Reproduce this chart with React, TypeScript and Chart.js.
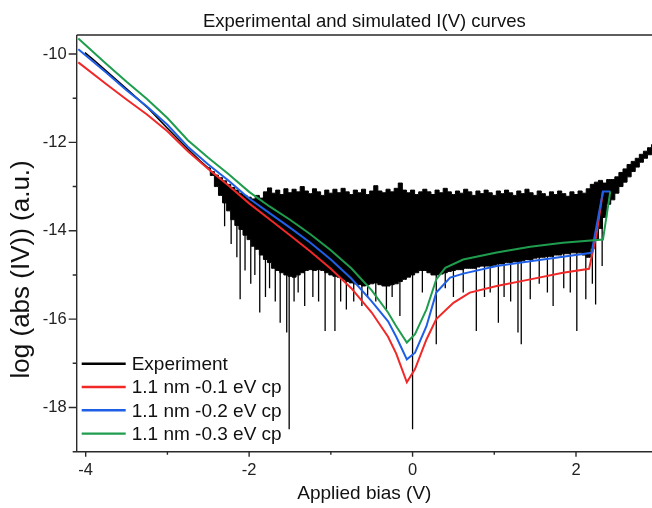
import { useEffect, useRef } from "react";
import { Chart, registerables } from "chart.js";

Chart.register(...registerables);

const FONT = "'Liberation Sans', Arial, Helvetica, sans-serif";

const chartTitle = "Experimental and simulated I(V) curves";
const xAxisTitle = "Applied bias (V)";
const yAxisTitle = "log (abs (IV)) (a.u.)";

const seriesNames = ["Experiment", "1.1 nm -0.1 eV cp", "1.1 nm -0.2 eV cp", "1.1 nm -0.3 eV cp"];
const seriesColors = ["#000000", "#f02828", "#1f5fe6", "#1f9d4f"];

const xTickLabels = [-4, -2, 0, 2];
const yTickLabels = [-10, -12, -14, -16, -18];
const X_MIN = -4.11;
const X_MAX = 2.93;
const Y_MIN = -19;
const Y_MAX = -9.57;

// Simulated curves
const redX = [-4.09, -3.75, -3.5, -3.25, -3.0, -2.75, -2.5, -2.25, -2.0, -1.75, -1.5, -1.25, -1.0, -0.75, -0.5, -0.3, -0.2, -0.07, 0.03, 0.17, 0.29, 0.5, 0.7, 1.03, 1.44, 1.84, 2.16, 2.25, 2.33];
const redY = [-10.19, -10.68, -11.03, -11.37, -11.75, -12.2, -12.6, -12.98, -13.38, -13.74, -14.1, -14.47, -14.86, -15.3, -15.85, -16.4, -16.78, -17.43, -17.13, -16.46, -16.0, -15.63, -15.4, -15.25, -15.1, -14.95, -14.86, -14.1, -13.11];

const blueX = [-4.09, -3.75, -3.5, -3.25, -3.0, -2.75, -2.5, -2.25, -2.0, -1.75, -1.5, -1.25, -1.0, -0.75, -0.5, -0.3, -0.2, -0.07, 0.03, 0.17, 0.29, 0.46, 0.62, 1.03, 1.44, 1.84, 2.19, 2.33, 2.42];
const blueY = [-9.89, -10.42, -10.82, -11.19, -11.6, -12.1, -12.5, -12.87, -13.27, -13.6, -13.93, -14.27, -14.65, -15.08, -15.6, -16.05, -16.4, -16.91, -16.76, -16.16, -15.4, -15.06, -14.97, -14.8, -14.69, -14.59, -14.5, -13.11, -13.11];

const greenX = [-4.09, -3.75, -3.5, -3.25, -3.0, -2.75, -2.5, -2.25, -2.0, -1.75, -1.5, -1.25, -1.0, -0.75, -0.5, -0.3, -0.2, -0.07, 0.03, 0.17, 0.29, 0.4, 0.62, 1.03, 1.44, 1.84, 2.33, 2.42];
const greenY = [-9.65, -10.22, -10.63, -11.02, -11.45, -11.95, -12.35, -12.72, -13.12, -13.45, -13.75, -14.08, -14.44, -14.85, -15.35, -15.85, -16.16, -16.53, -16.34, -15.78, -15.1, -14.84, -14.65, -14.49, -14.36, -14.27, -14.2, -13.11];

// Experiment: smooth part at high negative bias
const expLeftX = [-4.01, -3.9, -3.75, -3.5, -3.25, -3.0, -2.75, -2.6, -2.5];
const expLeftY = [-9.97, -10.14, -10.38, -10.79, -11.2, -11.68, -12.15, -12.42, -12.58];

// Experiment: noisy band (upper and lower envelope)
const bandX = [
  -2.5, -2.45, -2.4, -2.35, -2.3, -2.25, -2.2, -2.15, -2.1, -2.05, -2.0,
  -1.95, -1.9, -1.85, -1.8, -1.75, -1.7, -1.65, -1.6, -1.55, -1.5,
  -1.45, -1.4, -1.35, -1.3, -1.25, -1.2, -1.15, -1.1, -1.05, -1.0,
  -0.95, -0.9, -0.85, -0.8, -0.75, -0.7, -0.65, -0.6, -0.55, -0.5,
  -0.45, -0.4, -0.35, -0.3, -0.25, -0.2, -0.15, -0.1, -0.05, 0.0,
  0.05, 0.1, 0.15, 0.2, 0.25, 0.3, 0.35, 0.4, 0.45, 0.5,
  0.55, 0.6, 0.65, 0.7, 0.75, 0.8, 0.85, 0.9, 0.95, 1.0,
  1.05, 1.1, 1.15, 1.2, 1.25, 1.3, 1.35, 1.4, 1.45, 1.5,
  1.55, 1.6, 1.65, 1.7, 1.75, 1.8, 1.85, 1.9, 1.95, 2.0,
  2.05, 2.1, 2.15, 2.2, 2.25, 2.3, 2.35, 2.4, 2.45, 2.5,
  2.55, 2.6, 2.65, 2.7, 2.75, 2.8, 2.85, 2.9, 2.95,
];
const bandTop = [
  -12.58, -12.66, -12.74, -12.8, -12.87, -12.95, -13.02, -13.08, -13.15, -13.2, -13.24,
  -13.28, -13.2, -13.26, -13.12, -13.03, -13.15, -13.08, -13.18, -13.05, -13.14,
  -13.06, -13.12, -13.0, -13.1, -13.16, -13.05, -13.12, -13.2, -13.08, -13.15,
  -13.06, -13.14, -13.04, -13.12, -13.18, -13.08, -13.14, -13.06, -13.18, -13.1,
  -12.98, -13.1, -13.14, -13.06, -13.12, -13.04, -12.92, -13.08, -13.14, -13.08,
  -13.18, -13.12, -13.06, -13.12, -13.18, -13.08, -13.14, -13.04, -13.12, -13.18,
  -13.1, -13.15, -13.06, -13.12, -13.2, -13.1, -13.16, -13.08, -13.14, -13.2,
  -13.1, -13.16, -13.08, -13.14, -13.2, -13.1, -13.16, -13.06, -13.14, -13.2,
  -13.1, -13.16, -13.22, -13.12, -13.18, -13.1, -13.16, -13.22, -13.12, -13.18,
  -13.1, -13.15, -13.05, -12.95, -12.9, -12.86, -12.92, -12.84, -12.84, -12.78,
  -12.68, -12.6, -12.5, -12.43, -12.36, -12.27, -12.2, -12.12, -12.05,
];
const bandBottom = [
  -12.58, -12.75, -13.0, -13.2, -13.37, -13.55, -13.75, -13.88, -13.97, -14.1, -14.2,
  -14.35, -14.42, -14.55, -14.65, -14.72, -14.85, -14.9, -14.95, -15.0, -15.03,
  -15.05, -15.0, -14.95, -14.9, -14.88, -14.9, -14.88, -14.9, -14.95, -15.0,
  -15.03, -15.05, -15.1, -15.15, -15.18, -15.2, -15.22, -15.25, -15.22, -15.2,
  -15.18, -15.22, -15.25, -15.25, -15.22, -15.2, -15.15, -15.1, -15.05, -15.0,
  -14.95, -14.9, -14.9, -14.95, -15.0, -15.0, -14.98, -14.95, -14.92, -14.9,
  -14.88, -14.88, -14.85, -14.85, -14.85, -14.82, -14.8, -14.8, -14.8, -14.78,
  -14.75, -14.75, -14.72, -14.72, -14.7, -14.7, -14.68, -14.65, -14.65, -14.62,
  -14.6, -14.6, -14.58, -14.58, -14.55, -14.55, -14.52, -14.52, -14.5, -14.5,
  -14.5, -14.55, -14.6, -14.4, -14.2, -13.95, -13.7, -13.4, -13.3, -13.15,
  -13.0, -12.9, -12.78, -12.66, -12.56, -12.45, -12.36, -12.28, -12.2,
];

// Experiment: isolated deep downward spikes (from inside the band to the tip)
const SPIKE_FROM = -13.3;
const spikeX = [
  -2.3, -2.22, -2.15, -2.11, -2.05, -1.98, -1.93, -1.87, -1.8, -1.75,
  -1.68, -1.62, -1.54, -1.51, -1.45, -1.4, -1.32, -1.22, -1.15, -1.07,
  -0.95, -0.88, -0.81, -0.72, -0.62, -0.55, -0.45, -0.32, -0.25, -0.155,
  0.0, 0.12, 0.29, 0.4, 0.5, 0.62, 0.78, 0.88, 0.95, 1.05,
  1.12, 1.2, 1.29, 1.33, 1.44, 1.55, 1.65, 1.72, 1.85, 1.93,
  2.01, 2.12, 2.2, 2.24, 2.32,
];
const spikeTip = [
  -13.9, -14.3, -14.6, -15.55, -14.9, -15.2, -15.0, -15.85, -15.5, -15.3,
  -15.6, -16.08, -16.3, -18.49, -15.6, -15.4, -15.7, -15.5, -15.6, -16.27,
  -16.27, -15.6, -15.78, -15.6, -15.7, -15.5, -15.6, -15.78, -15.5, -15.93,
  -18.49, -15.4, -16.57, -15.3, -15.5, -15.4, -16.27, -15.5, -15.4, -16.08,
  -15.5, -15.6, -16.3, -16.57, -15.55, -15.2, -15.4, -15.7, -15.3, -15.4,
  -16.27, -15.55, -15.2, -15.67, -14.8,
];

const pts = (xs: number[], ys: number[]) => xs.map((x, i) => ({ x, y: ys[i] }));

const framePlugin = {
  id: "frameAndLegend",
  afterDraw(chart: any) {
    const { ctx, chartArea: a, scales } = chart;
    ctx.save();
    ctx.strokeStyle = "#2a2a2a";
    ctx.lineWidth = 1.4;
    ctx.beginPath();
    ctx.moveTo(a.left, a.top);
    ctx.lineTo(a.right, a.top);
    ctx.moveTo(a.left, a.top);
    ctx.lineTo(a.left, a.bottom);
    ctx.lineTo(a.right, a.bottom);
    for (const t of scales.x.ticks) {
      const px = scales.x.getPixelForValue(t.value);
      const len = xTickLabels.includes(t.value) ? 5 : 3;
      ctx.moveTo(px, a.bottom);
      ctx.lineTo(px, a.bottom + len);
    }
    for (const t of scales.y.ticks) {
      const py = scales.y.getPixelForValue(t.value);
      const len = yTickLabels.includes(t.value) ? 8 : 4;
      ctx.moveTo(a.left - len, py);
      ctx.lineTo(a.left, py);
    }
    ctx.stroke();

    // y axis title
    ctx.save();
    ctx.translate(22, (a.top + a.bottom) / 2 + 26);
    ctx.rotate(-Math.PI / 2);
    ctx.font = `26px ${FONT}`;
    ctx.fillStyle = "#111";
    ctx.textAlign = "center";
    ctx.textBaseline = "middle";
    ctx.fillText(yAxisTitle, 0, 0);
    ctx.restore();

    // legend inside the plot, lower left
    const lx = a.left + 5;
    const rowH = 23.3;
    const firstRow = a.bottom - 88;
    ctx.font = `19px ${FONT}`;
    ctx.textBaseline = "middle";
    ctx.textAlign = "left";
    seriesNames.forEach((name, i) => {
      const y = firstRow + i * rowH;
      ctx.strokeStyle = seriesColors[i];
      ctx.lineWidth = 2.4;
      ctx.beginPath();
      ctx.moveTo(lx, y);
      ctx.lineTo(lx + 44, y);
      ctx.stroke();
      ctx.fillStyle = "#111";
      ctx.fillText(name, lx + 50, y + 1);
    });
    ctx.restore();
  },
};

export default function App() {
  const ref = useRef<HTMLCanvasElement>(null);

  useEffect(() => {
    document.body.style.margin = "0";
    const canvas = ref.current;
    if (!canvas) return;

    const spikeData: any[] = [];
    spikeX.forEach((x, i) => {
      spikeData.push({ x, y: SPIKE_FROM });
      spikeData.push({ x, y: spikeTip[i] });
      spikeData.push({ x, y: null });
    });

    const chart = new Chart(canvas, {
      type: "line",
      data: {
        datasets: [
          {
            label: seriesNames[3],
            data: pts(greenX, greenY),
            borderColor: seriesColors[3],
            borderWidth: 2,
            order: 0,
          },
          {
            label: seriesNames[2],
            data: pts(blueX, blueY),
            borderColor: seriesColors[2],
            borderWidth: 2,
            order: 1,
          },
          {
            label: seriesNames[1],
            data: pts(redX, redY),
            borderColor: seriesColors[1],
            borderWidth: 2,
            order: 2,
          },
          {
            label: seriesNames[0],
            data: pts(expLeftX, expLeftY),
            borderColor: "#000",
            borderWidth: 1.6,
            order: 3,
          },
          {
            label: "Experiment (band upper)",
            data: pts(bandX, bandTop),
            borderColor: "#000",
            backgroundColor: "#000",
            borderWidth: 1,
            stepped: "middle",
            fill: "+1",
            order: 4,
          },
          {
            label: "Experiment (band lower)",
            data: pts(bandX, bandBottom),
            borderColor: "#000",
            borderWidth: 1,
            stepped: "middle",
            order: 5,
          },
          {
            label: "Experiment (spikes)",
            data: spikeData,
            borderColor: "#000",
            borderWidth: 1.3,
            spanGaps: false,
            order: 6,
          },
        ] as any,
      },
      options: {
        animation: false,
        responsive: false,
        elements: {
          point: { radius: 0, hoverRadius: 0 },
          line: { tension: 0, borderCapStyle: "butt", borderJoinStyle: "miter" },
        },
        layout: { padding: 0 },
        plugins: {
          legend: { display: false },
          tooltip: { enabled: false },
          title: {
            display: true,
            text: chartTitle,
            fullSize: false,
            color: "#111",
            font: { family: FONT, size: 18.5, weight: "normal" as any },
            padding: { top: 10.4, bottom: 2.4 },
          },
        },
        scales: {
          x: {
            type: "linear",
            min: X_MIN,
            max: X_MAX,
            grid: { display: false, drawTicks: false },
            border: { display: false },
            ticks: {
              stepSize: 1,
              includeBounds: false,
              autoSkip: false,
              maxRotation: 0,
              padding: 9,
              color: "#222",
              font: { family: FONT, size: 16.5 },
              callback: (v: any) => (xTickLabels.includes(Number(v)) ? String(v) : ""),
            },
            title: {
              display: true,
              text: xAxisTitle,
              color: "#111",
              font: { family: FONT, size: 19 },
              padding: { top: 0, bottom: 2.6 },
            },
            afterFit: (s: any) => {
              s.height = 56.3;
            },
          },
          y: {
            type: "linear",
            min: Y_MIN,
            max: Y_MAX,
            grid: { display: false, drawTicks: false },
            border: { display: false },
            ticks: {
              stepSize: 1,
              includeBounds: false,
              autoSkip: false,
              padding: 10,
              color: "#222",
              font: { family: FONT, size: 16.5 },
              callback: (v: any) => (yTickLabels.includes(Number(v)) ? String(v) : ""),
            },
            afterFit: (s: any) => {
              s.width = 76.7;
            },
          },
        },
      },
      plugins: [framePlugin],
    });

    return () => chart.destroy();
  }, []);

  return (
    <div style={{ width: 652, height: 508 }}>
      <canvas ref={ref} width={652} height={508} style={{ display: "block" }} />
    </div>
  );
}
